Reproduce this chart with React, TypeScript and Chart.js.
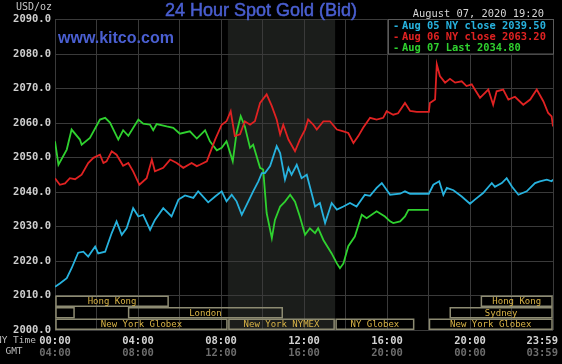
import React, { useEffect, useRef } from "react";
import { Chart, registerables } from "chart.js";

Chart.register(...registerables);

// ---- data (minutes after NY midnight, USD/oz) ----
const minutesAug05 = [0,14,34,48,67,82,96,116,125,145,164,178,193,207,226,241,255,275,289,313,337,357,376,400,414,419,443,463,482,496,511,525,540,559,573,588,598,607,622,641,651,665,675,684,699,713,728,752,766,781,800,815,834,853,872,896,911,930,945,969,998,1012,1027,1081,1094,1111,1123,1133,1152,1176,1200,1214,1238,1263,1272,1292,1306,1321,1340,1364,1388,1402,1422,1436,1440];
const pricesAug05 = [2012.5,2013.5,2015,2017.9,2022.4,2022.7,2021.3,2024.2,2022.2,2022.7,2028.1,2031.5,2027.6,2029.5,2035.3,2032.9,2033.4,2029,2031.9,2035.3,2032.9,2037.8,2039,2038.3,2040.2,2039.7,2037,2038.7,2040.2,2037.3,2039.2,2037.3,2033.4,2037.3,2040.2,2043.1,2045.5,2045.5,2047.5,2053.3,2051.3,2043.6,2047,2045,2047.9,2044,2045,2035.8,2036.8,2031,2036.8,2034.9,2035.8,2036.8,2035.8,2039.2,2038.9,2041.2,2042.6,2039.2,2039.5,2040.2,2039.5,2039.5,2042.1,2043.1,2039.2,2041.2,2040.5,2038.7,2036.6,2037.8,2039.7,2042.6,2041.5,2042.6,2044,2041.6,2039.2,2040.2,2042.6,2043.1,2043.6,2043.1,2043.6];

const minutesAug06 = [0,14,29,43,58,77,96,111,130,140,149,164,178,197,212,226,244,265,280,289,313,333,352,371,395,410,419,439,463,482,496,508,520,535,549,564,578,593,612,627,641,651,660,675,694,708,723,732,747,757,776,795,815,834,848,863,877,891,911,930,949,959,978,992,1012,1027,1046,1081,1084,1099,1104,1113,1128,1142,1157,1176,1190,1205,1214,1229,1253,1267,1277,1296,1311,1330,1354,1374,1393,1412,1426,1436,1440];
const pricesAug06 = [2044,2042.1,2042.5,2044,2043.7,2045,2048.4,2049.9,2050.8,2048.4,2048.9,2051.8,2050.8,2047.6,2048.4,2046,2042.1,2044,2049.4,2046,2047,2049.4,2048.4,2047,2048.4,2047.5,2047.9,2048.9,2055.2,2059.5,2060.5,2063.4,2056.2,2056.7,2060.5,2059.5,2060.5,2065.8,2068.3,2064.9,2061,2056.7,2059.5,2055.2,2051.8,2055.2,2058.1,2061,2059.5,2058.1,2060.5,2060.5,2058.1,2057.6,2057.1,2054.2,2056.2,2058.6,2061.5,2061,2061.5,2063.4,2062.4,2062.8,2065.8,2063.5,2063.2,2063.2,2065.8,2066.8,2077,2073.6,2071.7,2072.8,2071.7,2072.1,2070.7,2071.2,2069.7,2067.3,2069.7,2065.3,2069.2,2069.7,2066.8,2067.6,2065.3,2066.8,2069.7,2066.3,2062.9,2061.9,2059];

const minutesAug07 = [0,10,34,48,72,77,101,130,145,159,183,197,212,241,255,275,284,294,323,342,361,390,410,434,448,468,482,496,514,525,537,549,564,573,593,602,612,627,636,651,665,680,694,708,723,737,752,761,776,800,815,824,834,848,867,887,901,930,954,969,978,998,1012,1022,1081];
const pricesAug07 = [2054.7,2047.9,2052.3,2058.1,2055.2,2053.7,2055.7,2061,2061.5,2060.1,2055.2,2057.9,2056.3,2061,2059.8,2059.5,2057.9,2059.7,2059,2058.6,2056.9,2057.6,2055.5,2057.9,2054.7,2052.1,2052.8,2054.7,2048.9,2057.1,2062,2059,2052.8,2053.7,2047,2046.5,2033.9,2026.6,2031.9,2035.8,2037.2,2039.2,2037.2,2032.9,2027.6,2029.5,2028.1,2029.5,2026.1,2022.2,2019.3,2017.9,2019.3,2024.3,2027.1,2033.4,2032.4,2034.4,2032.9,2031.5,2031,2031.5,2032.9,2034.8,2034.8];

const seriesLabels = ["Aug 05 NY close 2039.50", "Aug 06 NY close 2063.20", "Aug 07 Last 2034.80"];
const seriesColors = ["#27b2de", "#e02222", "#2fd12f"];

// axis ticks
const yMin = 2000;
const yMax = 2090;
const yStep = 10;
const tickMinutes = [0, 240, 480, 720, 960, 1200, 1439];
const nyTimeLabels = ["00:00", "04:00", "08:00", "12:00", "16:00", "20:00", "23:59"];
const gmtLabels = ["04:00", "08:00", "12:00", "16:00", "20:00", "00:00", "03:59"];

// NYMEX pit hours (shaded)
const shadeStart = 500;
const shadeEnd = 810;

// trading sessions
const sessionNames = ["Hong Kong", "", "London", "New York Globex", "New York NYMEX", "NY Globex", "New York Globex", "Sydney", "Hong Kong"];
const sessionRows = [0, 1, 1, 2, 2, 2, 2, 1, 0];
const sessionStarts = [0, 0, 210, 0, 500, 810, 1080, 1140, 1230];
const sessionEnds = [330, 58, 660, 500, 810, 1040, 1440, 1440, 1440];

const titleText = "24 Hour Spot Gold (Bid)";
const siteText = "www.kitco.com";
const dateText = "August 07, 2020 19:20";
const unitText = "USD/oz";

const MONO = "'DejaVu Sans Mono', monospace";
const SANS = "'Liberation Sans', Arial, sans-serif";

const kitcoPlugin = {
  id: "kitcoDecor",
  beforeDraw(chart: any) {
    const { ctx, chartArea: a, scales } = chart;
    const x = scales.x;
    ctx.save();
    ctx.fillStyle = "#000";
    ctx.fillRect(0, 0, chart.width, chart.height);
    const x0 = x.getPixelForValue(shadeStart);
    const x1 = x.getPixelForValue(shadeEnd);
    ctx.fillStyle = "#1b1d1b";
    ctx.fillRect(x0, a.top, x1 - x0, a.bottom - a.top);
    ctx.restore();
  },
  afterDraw(chart: any) {
    const { ctx, chartArea: a, scales } = chart;
    const x = scales.x;
    const y = scales.y;
    ctx.save();

    // session boxes
    const rowH = (y.getPixelForValue(yMin) - y.getPixelForValue(yMin + yStep)) / 3;
    const rowTop = y.getPixelForValue(yMin + yStep);
    for (let i = 0; i < sessionNames.length; i++) {
      const sx0 = x.getPixelForValue(sessionStarts[i]);
      const sx1 = x.getPixelForValue(sessionEnds[i]);
      const ty = rowTop + sessionRows[i] * rowH;
      ctx.strokeStyle = "#8d8b72";
      ctx.lineWidth = 1.5;
      ctx.strokeRect(sx0 + 1, ty + 0.75, sx1 - sx0 - 2, rowH - 1.5);
      if (sessionNames[i]) {
        ctx.fillStyle = "#d9b447";
        ctx.font = `9px ${MONO}`;
        ctx.textAlign = "center";
        ctx.textBaseline = "middle";
        ctx.fillText(sessionNames[i], (sx0 + sx1) / 2, ty + rowH / 2 + 0.5);
      }
    }

    // x labels
    ctx.textBaseline = "middle";
    for (let i = 0; i < tickMinutes.length; i++) {
      const last = i === tickMinutes.length - 1;
      const px = last ? a.right + 5 : x.getPixelForValue(tickMinutes[i]);
      ctx.textAlign = last ? "right" : "center";
      ctx.font = `bold 10.5px ${MONO}`;
      ctx.fillStyle = "#d2d2d2";
      ctx.fillText(nyTimeLabels[i], px, a.bottom + 11);
      ctx.fillStyle = "#6c6c6c";
      ctx.fillText(gmtLabels[i], px, a.bottom + 23);
    }
    ctx.font = `9.5px ${MONO}`;
    ctx.fillStyle = "#bdbdbd";
    ctx.textAlign = "right";
    ctx.fillText("NY Time", 36, a.bottom + 11);
    ctx.textAlign = "center";
    ctx.fillText("GMT", 14, a.bottom + 22);

    // unit
    ctx.font = `10px ${MONO}`;
    ctx.textAlign = "right";
    ctx.fillStyle = "#c8c8c8";
    ctx.fillText(unitText, 52, 7);

    // title & site
    ctx.textAlign = "center";
    ctx.fillStyle = "#4a5fd1";
    ctx.strokeStyle = "#4a5fd1";
    ctx.lineWidth = 0.5;
    ctx.font = `18px ${SANS}`;
    ctx.fillText(titleText, 261, 11);
    ctx.strokeText(titleText, 261, 11);
    ctx.textAlign = "left";
    ctx.font = `bold 16px ${SANS}`;
    ctx.fillText(siteText, 58, 39);

    // date
    ctx.font = `10.4px ${MONO}`;
    ctx.fillStyle = "#d6d6d6";
    ctx.textAlign = "right";
    ctx.fillText(dateText, 544, 14);

    // legend box
    const lx0 = a.right - 165;
    const ly0 = a.top;
    const ly1 = y.getPixelForValue(yMax - yStep);
    ctx.fillStyle = "#000";
    ctx.fillRect(lx0, ly0, a.right - lx0, ly1 - ly0);
    ctx.strokeStyle = "#5a5a5a";
    ctx.lineWidth = 1;
    ctx.strokeRect(lx0 + 0.5, ly0, a.right - lx0, ly1 - ly0);
    ctx.font = `bold 10.4px ${MONO}`;
    ctx.textAlign = "left";
    for (let i = 0; i < seriesLabels.length; i++) {
      const ly = ly0 + 6.5 + i * 11.3;
      ctx.fillStyle = seriesColors[i];
      ctx.fillText("-", lx0 + 5, ly);
      ctx.fillText(seriesLabels[i], lx0 + 14, ly);
    }
    ctx.restore();
  },
};

function toPoints(xs: number[], ys: number[]) {
  return xs.map((v, i) => ({ x: v, y: ys[i] }));
}

export default function App() {
  const canvasRef = useRef<HTMLCanvasElement | null>(null);

  useEffect(() => {
    const canvas = canvasRef.current;
    if (!canvas) return;
    const chart = new Chart(canvas, {
      type: "line",
      data: {
        datasets: [
          { label: seriesLabels[0], data: toPoints(minutesAug05, pricesAug05), borderColor: seriesColors[0] },
          { label: seriesLabels[1], data: toPoints(minutesAug06, pricesAug06), borderColor: seriesColors[1] },
          { label: seriesLabels[2], data: toPoints(minutesAug07, pricesAug07), borderColor: seriesColors[2] },
        ].map((d) => ({ ...d, pointRadius: 0, borderWidth: 1.8, tension: 0, fill: false })),
      },
      options: {
        responsive: false,
        animation: false,
        events: [],
        layout: { padding: { left: 0, top: 19.5, right: 9, bottom: 34 } },
        plugins: { legend: { display: false }, tooltip: { enabled: false }, title: { display: false } },
        scales: {
          x: {
            type: "linear",
            min: 0,
            max: 1440,
            afterFit: (s: any) => { s.height = 0; },
            ticks: { display: false, stepSize: 120 },
            grid: { color: "#3a3a3a", lineWidth: 1, drawTicks: false },
            border: { display: false },
          },
          y: {
            min: yMin,
            max: yMax,
            afterFit: (s: any) => { s.width = 55; },
            ticks: {
              stepSize: yStep,
              padding: 4,
              color: "#cfcfcf",
              font: { family: MONO, size: 10.5, weight: "bold" },
              callback: (v: any) => Number(v).toFixed(1),
            },
            grid: { color: "#3a3a3a", lineWidth: 1, drawTicks: false },
            border: { display: false },
          },
        },
      },
      plugins: [kitcoPlugin],
    } as any);
    return () => chart.destroy();
  }, []);

  return (
    <div style={{ position: "fixed", left: 0, top: 0, width: 562, height: 364, background: "#000" }}>
      <canvas ref={canvasRef} width={562} height={364} style={{ display: "block" }} />
    </div>
  );
}
